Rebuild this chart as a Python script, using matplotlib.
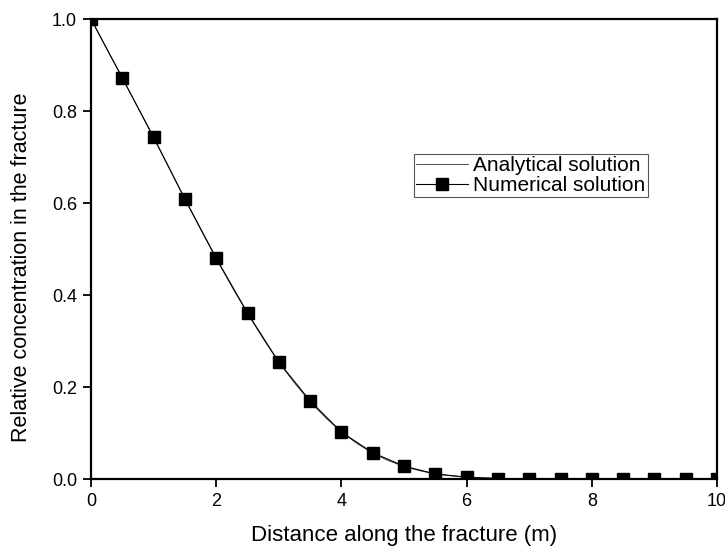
import matplotlib.pyplot as plt

plt.rcParams['font.family'] = ['Liberation Sans', 'DejaVu Sans']

# numerical solution, every 0.5 m
x_num = [0.0, 0.5, 1.0, 1.5, 2.0, 2.5, 3.0, 3.5, 4.0, 4.5, 5.0,
         5.5, 6.0, 6.5, 7.0, 7.5, 8.0, 8.5, 9.0, 9.5, 10.0]
c_num = [1.0, 0.872, 0.743, 0.609, 0.480, 0.361, 0.254, 0.170, 0.102, 0.057, 0.028,
         0.011, 0.004, 0.001, 0.0, 0.0, 0.0, 0.0, 0.0, 0.0, 0.0]

# analytical solution
x_ana = [0.0, 0.25, 0.5, 0.75, 1.0, 1.25, 1.5, 1.75, 2.0, 2.25, 2.5, 2.75, 3.0,
         3.25, 3.5, 3.75, 4.0, 4.25, 4.5, 4.75, 5.0, 5.25, 5.5, 5.75, 6.0,
         6.5, 7.0, 8.0, 9.0, 10.0]
c_ana = [1.0, 0.935, 0.872, 0.807, 0.742, 0.675, 0.608, 0.543, 0.479, 0.418, 0.360,
         0.305, 0.254, 0.209, 0.168, 0.133, 0.102, 0.077, 0.056, 0.040, 0.027,
         0.018, 0.011, 0.007, 0.004, 0.001, 0.0, 0.0, 0.0, 0.0]

fig = plt.figure(figsize=(7.25, 5.48), dpi=100)
ax = fig.add_axes([91 / 725, 1 - 479 / 548, 626 / 725, 460 / 548])

ax.plot(x_ana, c_ana, color='#333333', lw=0.6, label='Analytical solution')
ax.plot(x_num, c_num, color='black', lw=0.8, marker='s', markersize=8.5,
        label='Numerical solution')

ax.set_xlim(0, 10)
ax.set_ylim(0, 1.0)
ax.set_xticks([0, 2, 4, 6, 8, 10])
ax.set_yticks([0.0, 0.2, 0.4, 0.6, 0.8, 1.0])
ax.set_yticklabels(['0.0', '0.2', '0.4', '0.6', '0.8', '1.0'])
ax.tick_params(direction='out', length=6, width=1.3, labelsize=13, pad=4)
for s in ax.spines.values():
    s.set_linewidth(1.6)

ax.set_xlabel('Distance along the fracture (m)', fontsize=16, labelpad=11)
ax.set_ylabel('Relative concentration in the fracture', fontsize=15.5)
ax.yaxis.set_label_coords(-0.095, 0.46)

leg = ax.legend(loc='upper left', bbox_to_anchor=(0.516, 0.707), fontsize=15,
                fancybox=False, edgecolor='#555555', handlelength=2.5,
                borderpad=0.1, labelspacing=0.05, handletextpad=0.25,
                borderaxespad=0, framealpha=1)
leg.get_frame().set_linewidth(0.8)

fig.savefig('out.png', dpi=100)
